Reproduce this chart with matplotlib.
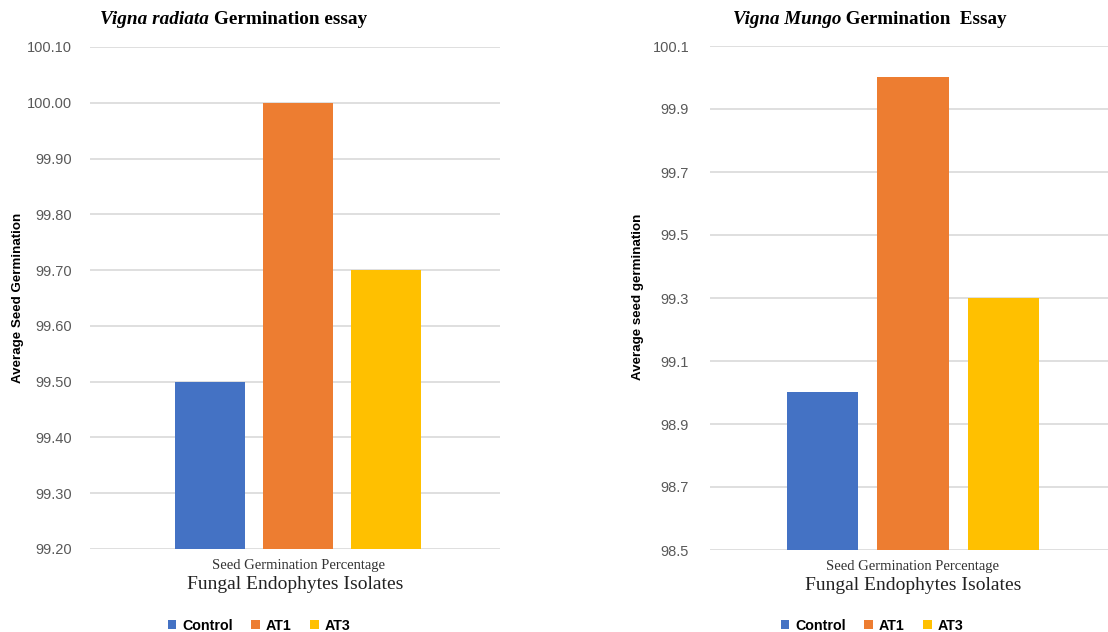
import matplotlib
matplotlib.use("Agg")
import matplotlib.pyplot as plt

categories = ["Control", "AT1", "AT3"]
radiata = [99.5, 100.0, 99.7]
mungo = [99.0, 100.0, 99.3]
radiata_ticks = [99.2, 99.3, 99.4, 99.5, 99.6, 99.7, 99.8, 99.9, 100.0, 100.1]
mungo_ticks = [98.5, 98.7, 98.9, 99.1, 99.3, 99.5, 99.7, 99.9, 100.1]
colors = ["#4472C4", "#ED7D31", "#FFC000"]

serif = "Liberation Serif"
sans = "Liberation Sans"
narrow = ["Liberation Sans Narrow", "Liberation Sans"]

fig = plt.figure(figsize=(11.08, 6.32), dpi=100)


def panel(rect, vals, ticks, fmt, xlim, width, pad):
    ax = fig.add_axes(rect)
    for i, (c, v) in enumerate(zip(categories, vals)):
        ax.bar(i, v - ticks[0], bottom=ticks[0], width=width,
               color=colors[i], label=c, zorder=3)
    ax.set_ylim(ticks[0], ticks[-1])
    ax.set_xlim(*xlim)
    ax.set_yticks(ticks, [fmt % t for t in ticks])
    ax.set_xticks([1], ["Seed Germination Percentage"])
    ax.tick_params(axis="both", length=0)
    ax.tick_params(axis="y", pad=pad, labelsize=10.5, labelcolor="#595959")
    for lab in ax.get_yticklabels():
        lab.set_family(sans)
    for lab in ax.get_xticklabels():
        lab.set_family(serif)
        lab.set_fontsize(10.5)
        lab.set_color("#333333")
    ax.tick_params(axis="x", pad=7)
    ax.grid(axis="y", color="#D9D9D9", linewidth=1.2, zorder=0)
    for s in ax.spines.values():
        s.set_visible(False)
    ax.set_xlabel("Fungal Endophytes Isolates", family=serif, fontsize=14,
                  color="#222222", labelpad=3)
    return ax


ax1 = panel([90 / 1108, 1 - 549 / 632, 410 / 1108, 502 / 632], radiata,
            radiata_ticks, "%.2f", (-1.364, 3.295), 0.795, 13)
ax2 = panel([710 / 1108, 1 - 550 / 632, 406 / 1108, 504 / 632], mungo,
            mungo_ticks, "%.1f", (-1.243, 3.243), 0.785, 15)

# titles: italic species name followed by bold text
t1 = fig.text(100 / 1108, 1 - 20 / 632, "Vigna radiata", family=serif,
              style="italic", weight="bold", fontsize=13.9, va="center")
ax1.annotate(" Germination essay", xy=(1, 0.5), xycoords=t1, va="center",
             ha="left", family=serif, weight="bold", fontsize=13.9)

t2 = fig.text(733 / 1108, 1 - 20 / 632, "Vigna Mungo", family=serif,
              style="italic", weight="bold", fontsize=13.7, va="center")
ax2.annotate(" Germination  Essay", xy=(1, 0.5), xycoords=t2, va="center",
             ha="left", family=serif, weight="bold", fontsize=13.7)

fig.text(18 / 1108, 1 - 298 / 632, "Average Seed Germination", rotation=90,
         family=narrow, weight="bold", fontsize=9.6, ha="center", va="center")
fig.text(638 / 1108, 1 - 297 / 632, "Average seed germination", rotation=90,
         family=narrow, weight="bold", fontsize=9.6, ha="center", va="center")

for ax, cx in [(ax1, 259), (ax2, 872)]:
    ax.legend(loc="center", bbox_to_anchor=(cx / 1108, 1 - 626 / 632),
              bbox_transform=fig.transFigure, ncol=3, frameon=False,
              handlelength=0.6, handleheight=0.6, handletextpad=0.4,
              columnspacing=1.3, prop={"family": sans, "weight": "bold",
                                       "size": 10.3})

fig.savefig("out.png", dpi=100)
